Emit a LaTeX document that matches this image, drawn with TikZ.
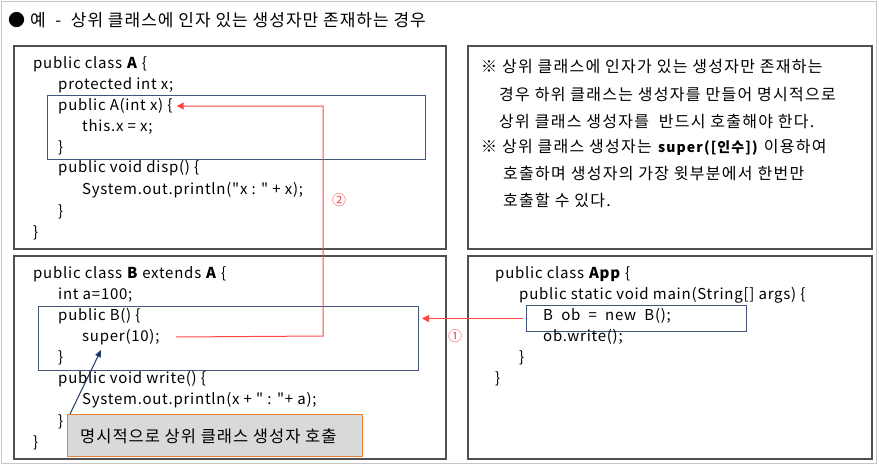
\documentclass[tikz,border=0pt]{standalone}
\usepackage{fontspec}
\setmainfont{Noto Sans CJK KR}
\newfontfamily\codefont{Noto Sans CJK KR}[LetterSpace=5]
\newfontfamily\notefont{Noto Sans CJK KR}[LetterSpace=8]
\newfontfamily\headfont{Noto Sans CJK KR}[LetterSpace=6]
\usetikzlibrary{arrows.meta}
\definecolor{boxline}{RGB}{80,80,80}
\definecolor{inner}{RGB}{68,84,120}
\definecolor{callred}{RGB}{255,70,70}
\definecolor{calloutfill}{RGB}{217,217,217}
\definecolor{calloutline}{RGB}{237,125,49}
\definecolor{navy}{RGB}{31,56,100}
\begin{document}
\begin{tikzpicture}[x=1pt,y=-1pt,
  code/.style={anchor=west, inner sep=0pt, font=\codefont\fontsize{15}{17}\selectfont},
  note/.style={anchor=west, inner sep=0pt, font=\notefont\fontsize{16}{18}\selectfont},
  panel/.style={draw=boxline, line width=1.2pt},
  hilite/.style={draw=inner, line width=1pt},
  callarrow/.style={draw=callred, line width=1pt, -{Triangle[length=7pt,width=7pt]}},
  numlabel/.style={text=callred, inner sep=0pt, font=\fontsize{14}{16}\selectfont}]
\useasboundingbox (0,0) rectangle (879,466);
\draw[gray!45, line width=1pt] (1,1) rectangle (876,463);
% heading
\node[anchor=west, inner sep=0pt, font=\headfont\fontsize{17}{20}\selectfont] (title) at (8,20) {● 예\ \ -\ \ 상위 클래스에 인자 있는 생성자만 존재하는 경우};
% panels
\draw[panel] (14,46) rectangle (446,249);
\draw[panel] (468,46) rectangle (872,249);
\draw[panel] (14,256) rectangle (446,459);
\draw[panel] (468,256) rectangle (872,459);
% highlight boxes
\node[hilite, minimum width=378pt, minimum height=64pt, anchor=north west, inner sep=0pt] (hlA) at (47,95) {};
\node[hilite, minimum width=380pt, minimum height=64pt, anchor=north west, inner sep=0pt] (hlB) at (38,306) {};
\node[hilite, minimum width=220pt, minimum height=26pt, anchor=north west, inner sep=0pt] (hlApp) at (526,305) {};
% class A
\node[code] (a1) at (33,64) {public class \textbf{A} \{};
\node[code] (a2) at (58,85) {protected int x;};
\node[code] (ctorA) at (58,106) {public A(int x) \{};
\node[code] (a4) at (82,127) {this.x = x;};
\node[code] (a5) at (58,148) {\}};
\node[code] (a6) at (58,168) {public void disp() \{};
\node[code] (a7) at (82,190) {System.out.println("x : " + x);};
\node[code] (a8) at (58,212) {\}};
\node[code] (a9) at (33,233) {\}};
% class B
\node[code] (b1) at (33,274) {public class \textbf{B} extends \textbf{A} \{};
\node[code] (b2) at (58,295) {int a=100;};
\node[code] (b3) at (58,316) {public B() \{};
\node[code] (sup) at (82,337) {super(10);};
\node[code] (b5) at (58,358) {\}};
\node[code] (b6) at (58,379) {public void write() \{};
\node[code] (b7) at (82,400) {System.out.println(x + " : "+ a);};
\node[code] (b8) at (58,422) {\}};
\node[code] (b9) at (33,443) {\}};
% App
\node[code] (p1) at (495,274) {public class \textbf{App} \{};
\node[code] (p2) at (519,295) {public static void main(String[] args) \{};
\node[code] (p3) at (543,316) {B\ \ ob\ \ =\ \ new\ \ B();};
\node[code] (p4) at (543,337) {ob.write();};
\node[code] (p5) at (519,358) {\}};
\node[code] (p6) at (495,379) {\}};
% note text
\node[note] (n1) at (481,67) {※ 상위 클래스에 인자가 있는 생성자만 존재하는};
\node[note] (n2) at (499,95) {경우 하위 클래스는 생성자를 만들어 명시적으로};
\node[note] (n3) at (499,121) {상위 클래스 생성자를\ \ 반드시 호출해야 한다.};
\node[note] (n4) at (481,147) {※ 상위 클래스 생성자는 {\fontsize{14}{16}\selectfont\textbf{super([인수])}} 이용하여};
\node[note] (n5) at (503,173) {호출하며 생성자의 가장 윗부분에서 한번만};
\node[note] (n6) at (503,200) {호출할 수 있다.};
% callout
\node[draw=calloutline, fill=calloutfill, line width=1pt, anchor=north west, minimum width=295pt, minimum height=42pt, inner sep=0pt] (callout) at (67,414) {};
\node[anchor=west, inner sep=0pt, font=\headfont\fontsize{16.5}{19}\selectfont] (ctext) at (80,436) {명시적으로 상위 클래스 생성자 호출};
\coordinate (suptip) at (101,350);
\draw[navy, line width=1pt, -{Triangle[length=7pt,width=6pt]}] ([xshift=3pt]callout.north west) -- (suptip);
% arrow 2
\coordinate (turnlow) at (323,336);
\coordinate (turnhigh) at (323,106);
\draw[callarrow] ([xshift=94pt]sup.west |- sup.center) -- (turnlow) -- (turnhigh) -- ([xshift=4pt]ctorA.east);
\node[numlabel] (lab2) at (339,200) {②};
% arrow 1
\draw[callarrow] ([xshift=-3pt]hlApp.west) -- ([xshift=3pt]hlB.east |- hlApp.west);
\node[numlabel] (lab1) at (455,336) {①};
\end{tikzpicture}
\end{document}
